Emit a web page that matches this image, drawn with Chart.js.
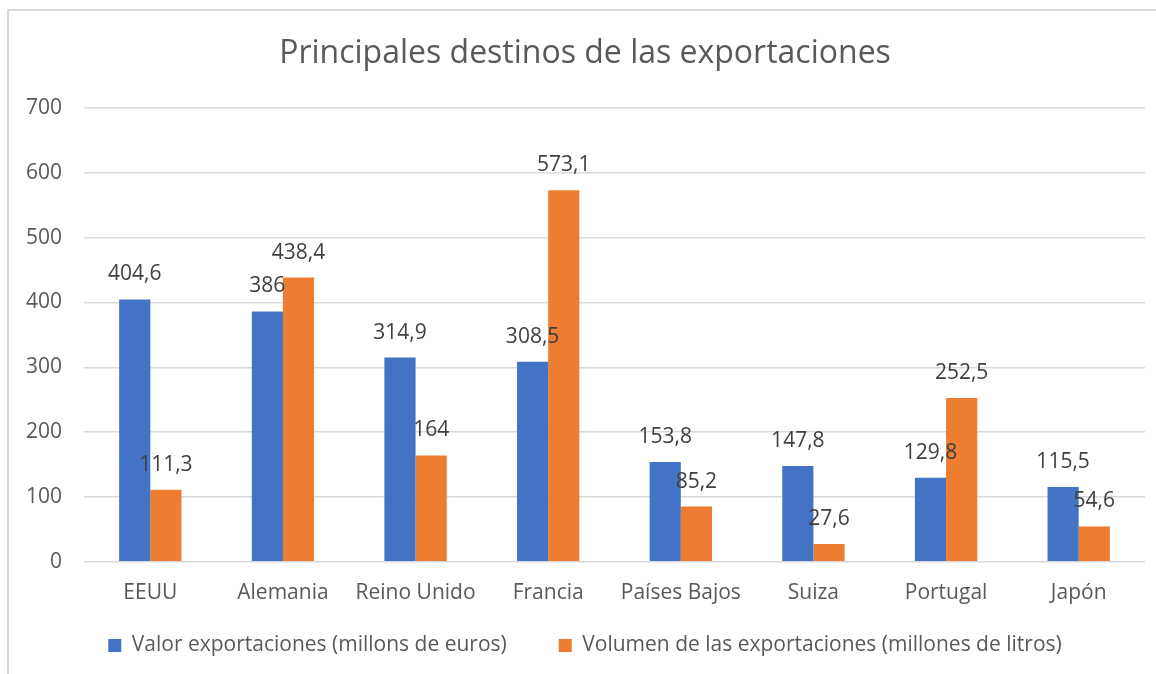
<!DOCTYPE html>
<html>
<head>
<meta charset="utf-8">
<script src="https://cdn.jsdelivr.net/npm/chart.js@4/dist/chart.umd.min.js"></script>
<style>
  html, body { margin: 0; padding: 0; background: #fff; overflow: hidden; }
  #wrap {
    position: absolute; left: 7px; top: 9px; width: 1164px; height: 665px;
    border-top: 2px solid #d9d9d9; border-left: 2px solid #d9d9d9;
    box-sizing: border-box;
  }
</style>
</head>
<body>
<div id="wrap"><canvas id="myChart"></canvas></div>
<script>
// Principales destinos de las exportaciones
const categories = ["EEUU", "Alemania", "Reino Unido", "Francia", "Países Bajos", "Suiza", "Portugal", "Japón"];
const valorExport = [404.6, 386, 314.9, 308.5, 153.8, 147.8, 129.8, 115.5];
const volumenExport = [111.3, 438.4, 164, 573.1, 85.2, 27.6, 252.5, 54.6];
const seriesNames = ["Valor exportaciones (millons de euros)", "Volumen de las exportaciones (millones de litros)"];

const FONT = "'Open Sans', sans-serif";

// etiquetas de datos encima de cada barra
const barLabels = {
  id: "barLabels",
  afterDatasetsDraw(chart) {
    const ctx = chart.ctx;
    ctx.save();
    ctx.font = "21px " + FONT;
    ctx.fillStyle = "#404040";
    ctx.textAlign = "center";
    ctx.textBaseline = "middle";
    chart.data.datasets.forEach((ds, i) => {
      chart.getDatasetMeta(i).data.forEach((bar, j) => {
        const txt = String(ds.data[j]).replace(".", ",");
        ctx.fillText(txt, bar.x, bar.y - 25);
      });
    });
    ctx.restore();
  },
};

const data = {
  labels: categories,
  datasets: [
    {
      label: seriesNames[0],
      data: valorExport,
      backgroundColor: "#4472C4",
      barPercentage: 1,
      categoryPercentage: 0.47,
    },
    {
      label: seriesNames[1],
      data: volumenExport,
      backgroundColor: "#ED7D31",
      barPercentage: 1,
      categoryPercentage: 0.47,
    },
  ],
};

const config = {
  type: "bar",
  data: data,
  plugins: [barLabels],
  options: {
    responsive: true,
    maintainAspectRatio: false,
    animation: false,
    layout: { padding: { left: 16, right: 26, top: 0, bottom: 8 } },
    scales: {
      x: {
        grid: { display: false, drawTicks: false },
        border: { display: false },
        ticks: { color: "#595959", font: { size: 21, family: FONT }, padding: 19 },
      },
      y: {
        min: 0,
        max: 700,
        ticks: { stepSize: 100, color: "#595959", font: { size: 21, family: FONT }, padding: 22 },
        grid: { color: "#d9d9d9", lineWidth: 1.5, drawTicks: false },
        border: { display: false },
        afterFit(scale) { scale.width = 59; },
      },
    },
    plugins: {
      title: {
        display: true,
        text: "Principales destinos de las exportaciones",
        color: "#595959",
        font: { size: 32, family: FONT, weight: "normal" },
        padding: { top: 24, bottom: 34.5 },
      },
      legend: {
        position: "bottom",
        labels: {
          boxWidth: 13,
          boxHeight: 13,
          padding: 10,
          color: "#595959",
          font: { size: 21, family: FONT },
          generateLabels(chart) {
            const items = Chart.defaults.plugins.legend.labels.generateLabels(chart);
            items[0].text += "\u2002\u2002\u2002\u2002"; // hueco entre las dos entradas
            return items;
          },
        },
      },
      tooltip: { enabled: false },
    },
  },
};

new Chart(document.getElementById("myChart"), config);
</script>
</body>
</html>
